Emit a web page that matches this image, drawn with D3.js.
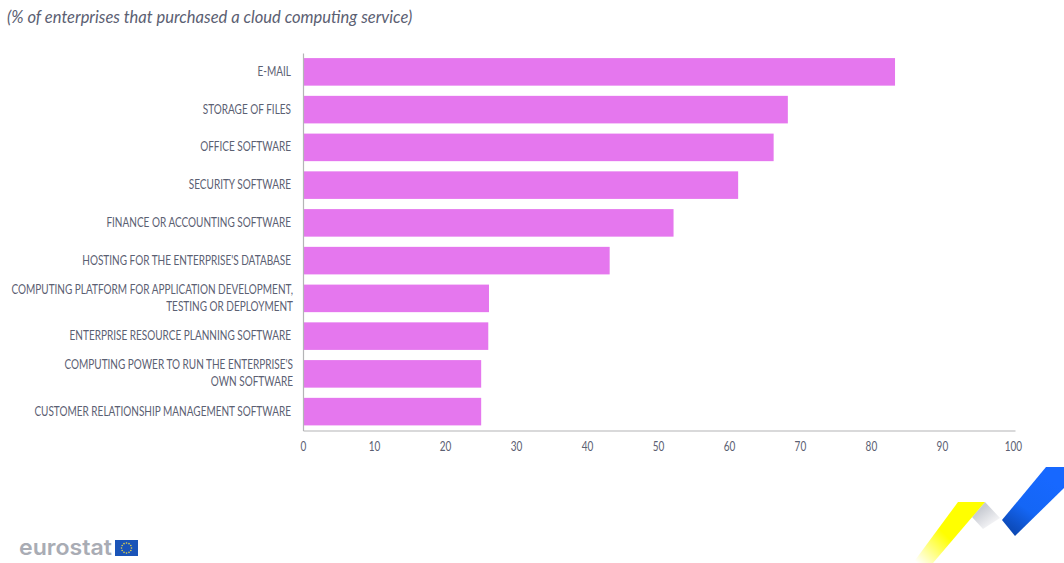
<!DOCTYPE html>
<html>
<head>
<meta charset="utf-8">
<script src="https://cdn.jsdelivr.net/npm/d3@7"></script>
<style>
html,body{margin:0;padding:0;background:#fff;overflow:hidden}
svg{display:block}
text{font-family:Lato,sans-serif}
</style>
</head>
<body>
<svg id="chart" width="1064" height="563"></svg>
<script>
// Cloud computing services purchased by enterprises, share in %
const subtitle = "(% of enterprises that purchased a cloud computing service)";
const categories = [
  ["E-MAIL"],
  ["STORAGE OF FILES"],
  ["OFFICE SOFTWARE"],
  ["SECURITY SOFTWARE"],
  ["FINANCE OR ACCOUNTING SOFTWARE"],
  ["HOSTING FOR THE ENTERPRISE'S DATABASE"],
  ["COMPUTING PLATFORM FOR APPLICATION DEVELOPMENT,", "TESTING OR DEPLOYMENT"],
  ["ENTERPRISE RESOURCE PLANNING SOFTWARE"],
  ["COMPUTING POWER TO RUN THE ENTERPRISE'S", "OWN SOFTWARE"],
  ["CUSTOMER RELATIONSHIP MANAGEMENT SOFTWARE"]
];
const values = [83.4, 68.3, 66.3, 61.3, 52.2, 43.2, 26.2, 26.1, 25.1, 25.1];
const xTicks = [0, 10, 20, 30, 40, 50, 60, 70, 80, 90, 100];

const svg = d3.select("#chart");
const textColor = "#5b6072";
const axisColor = "#b4b4b6";
const labelSqueeze = 0.715;
const lineGap = 17;

const x = d3.scaleLinear().domain([0, 100.3]).range([303, 1015]);
const y = d3.scaleBand().domain(d3.range(categories.length)).range([53, 430.5])
  .paddingInner(0.27).paddingOuter(0.135);

// Subtitle
svg.append("text")
  .attr("transform", "translate(7,23) scale(0.945,1)")
  .attr("font-size", 17.5)
  .attr("font-style", "italic")
  .attr("fill", textColor)
  .text(subtitle);

// Bars
svg.append("g").selectAll("rect")
  .data(values)
  .join("rect")
  .attr("x", x(0))
  .attr("y", (d, i) => y(i))
  .attr("width", d => x(d) - x(0))
  .attr("height", y.bandwidth())
  .attr("fill", "#e577ee");

// Category axis; long names wrap onto a second line
const yAxis = svg.append("g")
  .attr("transform", `translate(${x(0)},0)`)
  .call(d3.axisLeft(y).tickSize(0).tickPadding(0).tickFormat(""));
yAxis.select(".domain").attr("stroke", axisColor).attr("stroke-width", 1.2);
yAxis.selectAll(".tick text").remove();
yAxis.selectAll(".tick").each(function (i) {
  const lines = categories[i];
  const right = lines.length > 1 ? -10 : -12;
  const top = 4 - (lines.length - 1) * lineGap / 2;
  const label = d3.select(this).append("text")
    .attr("transform", `translate(${right},${top}) scale(${labelSqueeze},1)`)
    .attr("text-anchor", "end")
    .attr("font-size", 14)
    .attr("fill", textColor);
  lines.forEach((line, k) => {
    label.append("tspan").attr("x", 0).attr("dy", k ? lineGap : 0).text(line);
  });
});

// Value axis
const xAxis = svg.append("g")
  .attr("transform", "translate(0,430.5)")
  .call(d3.axisBottom(x).tickValues(xTicks).tickSize(0).tickPadding(0));
xAxis.select(".domain").attr("stroke", axisColor).attr("stroke-width", 1.2);
xAxis.selectAll(".tick text")
  .attr("y", 0).attr("dy", 0)
  .attr("transform", `translate(0,20) scale(${labelSqueeze},1)`)
  .attr("font-family", "Lato,sans-serif")
  .attr("font-size", 14)
  .attr("fill", textColor);

// Gradients for the corner ribbon
const defs = svg.append("defs");
function linear(id, x1, y1, x2, y2, stops) {
  const g = defs.append("linearGradient").attr("id", id)
    .attr("gradientUnits", "userSpaceOnUse")
    .attr("x1", x1).attr("y1", y1).attr("x2", x2).attr("y2", y2);
  stops.forEach(s => g.append("stop").attr("offset", s[0]).attr("stop-color", s[1]));
}
linear("ribbonYellow", 972, 515, 920, 566, [[0, "#ffff00"], [0.45, "#ffff00"], [1, "#ffffff"]]);
linear("ribbonGrey", 980, 510, 992, 526, [[0, "#c9ccd3"], [1, "#f6f6f8"]]);
linear("ribbonBlue", 1050, 480, 1012, 536, [[0, "#1768ff"], [0.55, "#1466f5"], [1, "#0b45ad"]]);

const line = d3.line();
const ribbon = svg.append("g");
ribbon.append("path").attr("d", line([[985, 502], [1000, 518], [983, 529], [972, 517]]) + "Z").attr("fill", "url(#ribbonGrey)");
ribbon.append("path").attr("d", line([[958, 502], [985, 502], [933, 563], [913, 563]]) + "Z").attr("fill", "url(#ribbonYellow)");
ribbon.append("path").attr("d", line([[1046, 467], [1064, 467], [1064, 488], [1015, 536], [1002, 520]]) + "Z").attr("fill", "url(#ribbonBlue)");

// Eurostat wordmark and EU flag
svg.append("text")
  .attr("x", 19).attr("y", 555)
  .attr("font-size", 22).attr("font-weight", 600)
  .attr("fill", "#a9acb4")
  .style("font-family", "Inter, sans-serif")
  .attr("textLength", 93).attr("lengthAdjust", "spacingAndGlyphs")
  .text("eurostat");
svg.append("rect").attr("x", 115).attr("y", 540).attr("width", 23).attr("height", 16).attr("fill", "#1a54b8");
const stars = d3.range(12);
svg.append("g").selectAll("circle").data(stars).join("circle")
  .attr("cx", d => 126.5 + 5 * Math.cos(d * Math.PI / 6))
  .attr("cy", d => 548 + 5 * Math.sin(d * Math.PI / 6))
  .attr("r", 0.8)
  .attr("fill", "#e3d34a");
</script>
</body>
</html>
